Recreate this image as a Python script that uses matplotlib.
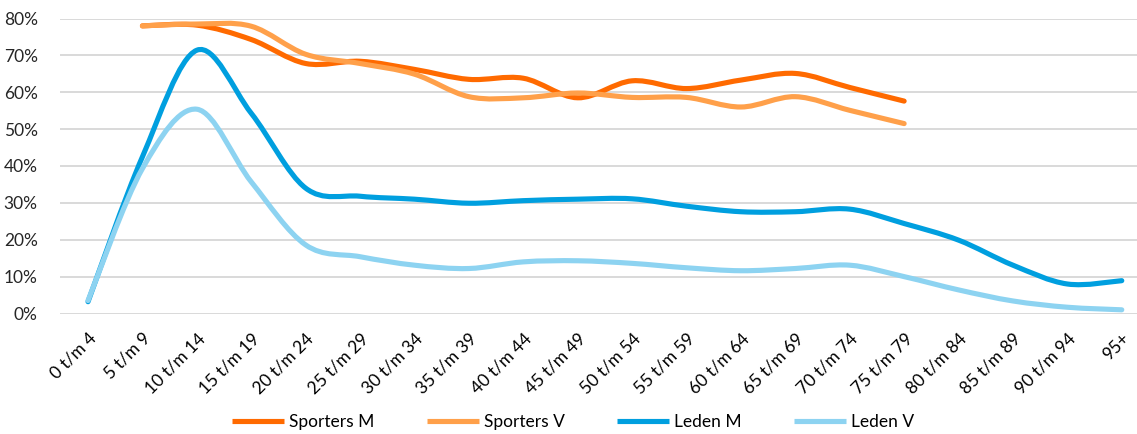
import matplotlib
matplotlib.use("Agg")
import matplotlib.pyplot as plt
from matplotlib.path import Path
from matplotlib.patches import PathPatch
from matplotlib.lines import Line2D
import numpy as np

categories = ["0 t/m 4", "5 t/m 9", "10 t/m 14", "15 t/m 19", "20 t/m 24", "25 t/m 29",
              "30 t/m 34", "35 t/m 39", "40 t/m 44", "45 t/m 49", "50 t/m 54", "55 t/m 59",
              "60 t/m 64", "65 t/m 69", "70 t/m 74", "75 t/m 79", "80 t/m 84", "85 t/m 89",
              "90 t/m 94", "95+"]

sporters_m = [None, 78.0, 78.2, 74.3, 67.8, 68.4, 66.2, 63.5, 63.8, 58.5, 63.1, 61.0,
              63.3, 65.1, 61.3, 57.6, None, None, None, None]
sporters_v = [None, 78.0, 78.5, 77.9, 70.3, 67.8, 64.9, 58.8, 58.5, 59.8, 58.6, 58.6,
              56.0, 58.8, 55.1, 51.5, None, None, None, None]
leden_m = [3.2, 42.5, 71.4, 54.3, 34.0, 31.8, 31.0, 29.9, 30.6, 31.0, 31.1, 29.1,
           27.6, 27.6, 28.3, 24.4, 19.9, 13.1, 8.0, 8.9]
leden_v = [3.5, 39.3, 55.4, 35.7, 18.6, 15.4, 13.1, 12.2, 14.0, 14.3, 13.6, 12.4,
           11.6, 12.2, 13.1, 10.0, 6.4, 3.4, 1.7, 1.0]

series_names = ["Sporters M", "Sporters V", "Leden M", "Leden V"]
series_values = [sporters_m, sporters_v, leden_m, leden_v]
series_colors = ["#FF6A00", "#FFA04A", "#009FDF", "#8DD3F1"]

LW = 3.7
plt.rcParams['font.family'] = ['Lato', 'DejaVu Sans']

fig = plt.figure(figsize=(11.37, 4.34), dpi=100)
ax = fig.add_axes([60 / 1137, 1 - 313.5 / 434, 1 - 60 / 1137, (313.5 - 18.5) / 434])


def smooth_path(xs, ys):
    pts = np.column_stack([xs, ys])
    n = len(pts)
    verts = [pts[0]]
    codes = [Path.MOVETO]
    for i in range(n - 1):
        p0 = pts[i - 1] if i > 0 else pts[i]
        p1 = pts[i]
        p2 = pts[i + 1]
        p3 = pts[i + 2] if i + 2 < n else pts[i + 1]
        c1 = p1 + (p2 - p0) / 6.0
        c2 = p2 - (p3 - p1) / 6.0
        verts += [c1, c2, p2]
        codes += [Path.CURVE4] * 3
    return Path(verts, codes)


handles = []
for name, vals, col in zip(series_names, series_values, series_colors):
    xs = [i for i, v in enumerate(vals) if v is not None]
    ys = [v / 100.0 for v in vals if v is not None]
    patch = PathPatch(smooth_path(xs, ys), facecolor="none", edgecolor=col,
                      linewidth=LW, capstyle="round", joinstyle="round", zorder=3)
    ax.add_patch(patch)
    handles.append(Line2D([], [], color=col, linewidth=LW, solid_capstyle="butt"))

ax.set_xlim(-0.515, 19.28)
ax.set_ylim(0, 0.8)
ax.set_yticks(np.arange(0, 0.81, 0.1))
ax.set_yticklabels([f"{int(round(t * 100))}%" for t in np.arange(0, 0.81, 0.1)])
ax.set_xticks(range(len(categories)))
ax.set_xticklabels(categories, rotation=45, ha="right", va="top", rotation_mode="anchor")
ax.tick_params(axis="both", length=0, labelsize=12.5, colors="#000000")
ax.tick_params(axis="x", pad=12)
ax.tick_params(axis="y", pad=16)
for lbl in ax.get_yticklabels():
    lbl.set_color("#262626")
ax.grid(axis="y", color="#D9D9D9", linewidth=1.4)
ax.set_axisbelow(True)
for s in ax.spines.values():
    s.set_visible(False)
ax.patch.set_alpha(0)

fig.legend(handles, series_names, loc="center", bbox_to_anchor=(573 / 1137, 1 - 422 / 434),
           ncol=4, frameon=False, fontsize=12.5, handlelength=3.0, handletextpad=0.3,
           columnspacing=3.0)

fig.savefig("out.png", dpi=100)
